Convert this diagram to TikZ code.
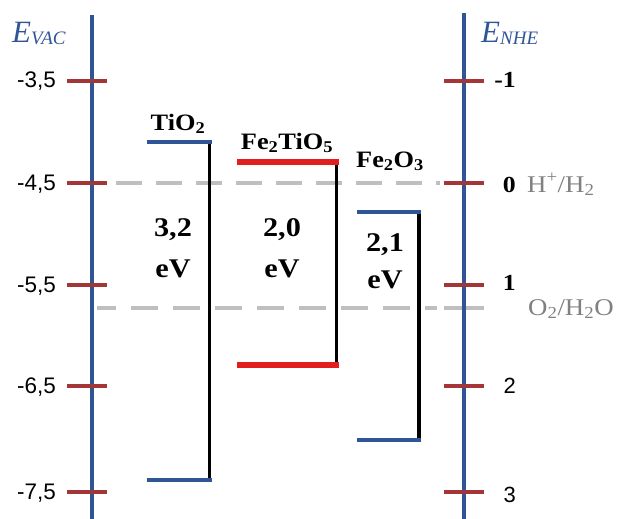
\documentclass[tikz,border=0pt]{standalone}
\usepackage{fontspec}
\setmainfont{Liberation Serif}
\newfontfamily\sansf{Liberation Sans}
\newfontfamily\wideserif[FakeStretch=1.12]{Liberation Serif}
\definecolor{axisblue}{RGB}{47,85,151}
\definecolor{tickred}{RGB}{163,55,55}
\definecolor{bandred}{RGB}{226,30,30}
\definecolor{bandblue}{RGB}{47,85,151}
\definecolor{dashgray}{RGB}{191,191,191}
\definecolor{labgray}{RGB}{128,128,128}
\begin{document}
\begin{tikzpicture}[x=1pt,y=-1pt,
  axisline/.style={draw=axisblue,line width=4pt},
  tickmark/.style={draw=tickred,line width=3.5pt},
  graytick/.style={draw=dashgray,line width=3.5pt},
  levelgap/.style={draw=dashgray,line width=4pt},
  cbblue/.style={draw=bandblue,line width=4pt},
  cbred/.style={draw=bandred,line width=6pt},
  gapline/.style={draw=black,line width=3.5pt},
  leftlab/.style={anchor=base east,inner sep=0pt,font=\sansf\fontsize{22.5}{22.5}\selectfont},
  rightser/.style={anchor=base east,inner sep=0pt,font=\wideserif\bfseries\fontsize{23}{23}\selectfont},
  rightsans/.style={anchor=base east,inner sep=0pt,font=\sansf\fontsize{22}{22}\selectfont},
  matlab/.style={anchor=base,inner sep=0pt,font=\wideserif\bfseries\fontsize{23.5}{23.5}\selectfont},
  eglab/.style={anchor=base,inner sep=0pt,font=\wideserif\bfseries\fontsize{27}{27}\selectfont},
  redox/.style={anchor=base west,inner sep=0pt,text=labgray,font=\wideserif\fontsize{24}{24}\selectfont},
  axtitle/.style={anchor=base west,inner sep=0pt,text=axisblue}
]
\useasboundingbox (0,0) rectangle (619,519);

% redox levels (dashed)
\draw[levelgap,dash pattern=on 26pt off 14pt,dash phase=21pt] (97,183) -- (440,183);
\draw[levelgap,dash pattern=on 27pt off 15pt,dash phase=8pt] (97,308) -- (437,308);
\draw[graytick] (444,308) -- (484,308);

% axes
\draw[axisline] (92,15) -- (92,519);
\draw[axisline] (464,13) -- (464,519);

% ticks
\foreach \yy in {81,183,285,386,492}{
  \draw[tickmark] (67,\yy) -- (107,\yy);
  \draw[tickmark] (444,\yy) -- (484,\yy);
}

% left labels
\node[leftlab] (l1) at (56,88) {-3,5};
\node[leftlab] (l2) at (56,190) {-4,5};
\node[leftlab] (l3) at (56,292) {-5,5};
\node[leftlab] (l4) at (56,393) {-6,5};
\node[leftlab] (l5) at (56,499) {-7,5};

% right labels
\node[rightser] (r1) at (516,88) {-1};
\node[rightser] (r2) at (516,192) {0};
\node[rightser] (r3) at (516,290) {1};
\node[rightsans] (r4) at (516,393) {2};
\node[rightsans] (r5) at (516,502) {3};

% axis titles
\node[axtitle] (evac) at (12,43) {\fontsize{31}{31}\selectfont\itshape E\fontsize{19}{19}\selectfont\raisebox{-2pt}{VAC}};
\node[axtitle] (enhe) at (481,43) {\fontsize{31}{31}\selectfont\itshape E\fontsize{19}{19}\selectfont\raisebox{-2pt}{NHE}};

% redox labels
\node[redox] (hh) at (527,192) {H\textsuperscript{+}/H\textsubscript{2}};
\node[redox] (oo) at (528,315) {O\textsubscript{2}/H\textsubscript{2}O};

% TiO2
\draw[gapline] (209.5,142) -- (209.5,480);
\draw[cbblue] (147,142) -- (211.5,142);
\draw[cbblue] (147,480) -- (211.5,480);
\node[matlab] (tio2) at (178,130) {TiO\textsubscript{2}};
\node[eglab] (g1a) at (173,236) {3,2};
\node[eglab] (g1b) at (173,277) {eV};

% Fe2TiO5
\draw[gapline] (336.5,162) -- (336.5,365);
\draw[cbred] (237,162) -- (338.5,162);
\draw[cbred] (237,365) -- (338.5,365);
\node[matlab] (fto) at (287,149) {Fe\textsubscript{2}TiO\textsubscript{5}};
\node[eglab] (g2a) at (282,236) {2,0};
\node[eglab] (g2b) at (282,277) {eV};

% Fe2O3
\draw[gapline] (419,212) -- (419,440);
\draw[cbblue] (357,212) -- (421,212);
\draw[cbblue] (357,440) -- (421,440);
\node[matlab] (feo) at (390,167) {Fe\textsubscript{2}O\textsubscript{3}};
\node[eglab] (g3a) at (385,251) {2,1};
\node[eglab] (g3b) at (385,288) {eV};
\end{tikzpicture}
\end{document}
